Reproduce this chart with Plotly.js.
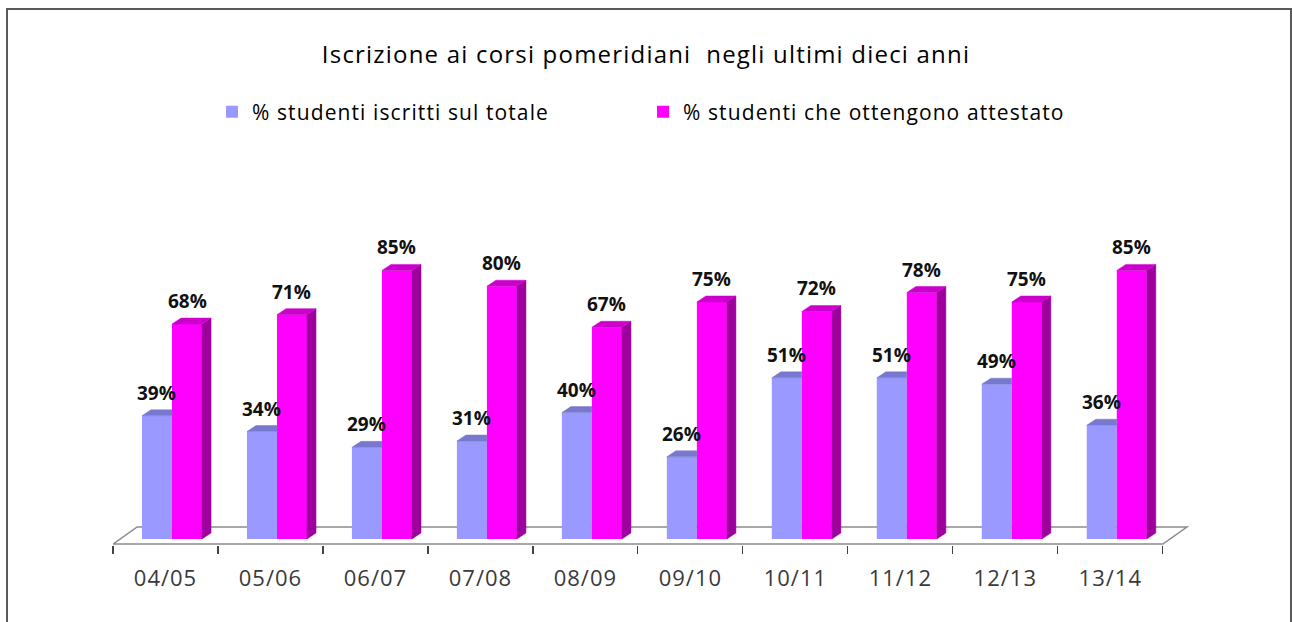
<!DOCTYPE html>
<html>
<head>
<meta charset="utf-8">
<script src="https://cdn.plot.ly/plotly-3.0.1.min.js"></script>
<style>
html,body{margin:0;padding:0;background:#fff;}
#wrap{position:relative;width:1292px;height:622px;overflow:hidden;}
#chart{width:1292px;height:622px;}
#frame{position:absolute;left:6px;top:8px;width:1286px;height:630px;box-sizing:border-box;border:2px solid #5a5a5a;pointer-events:none;}
#chart .gtitle{letter-spacing:1.2px;}
#chart .legendtext{letter-spacing:1.1px;}
#chart .xtick text{letter-spacing:1px;}
</style>
</head>
<body>
<div id="wrap"><div id="chart"></div><div id="frame"></div></div>
<script>
// ---- data ----
const categories = ['04/05','05/06','06/07','07/08','08/09','09/10','10/11','11/12','12/13','13/14'];
const iscritti   = [39, 34, 29, 31, 40, 26, 51, 51, 49, 36];
const attestato  = [68, 71, 85, 80, 67, 75, 72, 78, 75, 85];
const seriesNames = ['% studenti iscritti sul totale', '% studenti che ottengono attestato'];
const titleText = 'Iscrizione ai corsi pomeridiani&nbsp; negli ultimi dieci anni';

// ---- styling / geometry constants ----
const BLUE = '#9999FF', BLUE_TOP = '#7878CF';
const MAG = '#FF00FF', MAG_SIDE = '#9E009E', MAG_TOP = '#CC00CC';
const W = 0.286, OFF_B = -0.224, OFF_M = 0.062;
const DX = 0.086, DY = 1.9;   // pseudo-3D depth
const pos = categories.map((c, i) => i);

function faces(vals, off, withSide) {
  const top = {x: [], y: []}, side = {x: [], y: []};
  vals.forEach((v, i) => {
    const xl = pos[i] + off, xr = xl + W;
    if (withSide) {
      top.x.push(xl, xr, xr + DX, xl + DX, xl, null);
      top.y.push(v, v, v + DY, v + DY, v, null);
      side.x.push(xr, xr, xr + DX, xr + DX, xr, null);
      side.y.push(0, v, v + DY, DY, 0, null);
    } else {
      top.x.push(xl, xr, xr, xl + DX, xl, null);
      top.y.push(v, v, v + DY, v + DY, v, null);
    }
  });
  return {top, side};
}
const fb = faces(iscritti, OFF_B, false);
const fm = faces(attestato, OFF_M, true);

function poly(p, color) {
  return {type: 'scatter', mode: 'lines', x: p.x, y: p.y, fill: 'toself', fillcolor: color,
          line: {color: color, width: 0.5}, showlegend: false, hoverinfo: 'skip'};
}

const traces = [
  {type: 'bar', name: seriesNames[0], x: pos, y: iscritti, width: W, offset: OFF_B,
   marker: {color: BLUE, line: {width: 0}}, hoverinfo: 'skip'},
  {type: 'bar', name: seriesNames[1], x: pos, y: attestato, width: W, offset: OFF_M,
   marker: {color: MAG, line: {width: 0}}, hoverinfo: 'skip'},
  poly(fb.top, BLUE_TOP),
  poly(fm.side, MAG_SIDE),
  poly(fm.top, MAG_TOP)
];

const labelFont = {family: 'Open Sans', size: 19, color: '#111', weight: 700};
const annotations = [];
iscritti.forEach((v, i) => annotations.push({x: pos[i] + OFF_B + W / 2, y: v, text: v + '%',
  showarrow: false, yanchor: 'bottom', yshift: 8, font: labelFont}));
attestato.forEach((v, i) => annotations.push({x: pos[i] + OFF_M + W / 2, y: v, text: v + '%',
  showarrow: false, yanchor: 'bottom', yshift: 8, font: labelFont}));

// floor of the 3D plot
const n = categories.length;
const fl = -0.5, fr = n - 0.5, fy0 = -1.6, fy1 = 3.8, fdx = 0.23;
const shapes = [{type: 'path', layer: 'below', xref: 'x', yref: 'y',
  path: `M${fl},${fy0} L${fr},${fy0} L${fr + fdx},${fy1} L${fl + fdx},${fy1} Z`,
  line: {color: '#8c8c8c', width: 1.5}, fillcolor: 'rgba(0,0,0,0)'}];

const layout = {
  width: 1292, height: 622,
  paper_bgcolor: '#fff', plot_bgcolor: 'rgba(0,0,0,0)',
  margin: {l: 113, r: 103, t: 150, b: 77},
  barmode: 'overlay',
  showlegend: true,
  title: {text: titleText, x: 0.5, xref: 'container', xanchor: 'center', y: 1 - 55 / 622, yref: 'container',
          yanchor: 'middle', font: {family: 'Open Sans', size: 24, color: '#000'}},
  legend: {orientation: 'h', x: (212 - 113) / 1076, xanchor: 'left', y: 1 + (150 - 112) / 395, yanchor: 'middle',
           entrywidth: 386, entrywidthmode: 'pixels', traceorder: 'normal',
           font: {family: 'Open Sans', size: 21, color: '#000'}, bgcolor: 'rgba(0,0,0,0)'},
  xaxis: {range: [-0.5, 9.75], tickvals: pos, ticktext: categories, ticks: '', showgrid: false,
          zeroline: false, showline: false, ticklabelstandoff: 18,
          tickfont: {family: 'Open Sans', size: 22, color: '#3a3a3a'},
          minor: {tickvals: categories.map((c, i) => i - 0.5).concat([n - 0.5]), ticks: 'outside', ticklen: 8,
                  tickwidth: 1.2, tickcolor: '#444', showgrid: false}},
  yaxis: {range: [-1.9, 123.1], showticklabels: false, showgrid: false, zeroline: false, ticks: '', showline: false},
  annotations: annotations,
  shapes: shapes,
  hovermode: false
};

Plotly.newPlot('chart', traces, layout, {displayModeBar: false, staticPlot: true});
</script>
</body>
</html>
